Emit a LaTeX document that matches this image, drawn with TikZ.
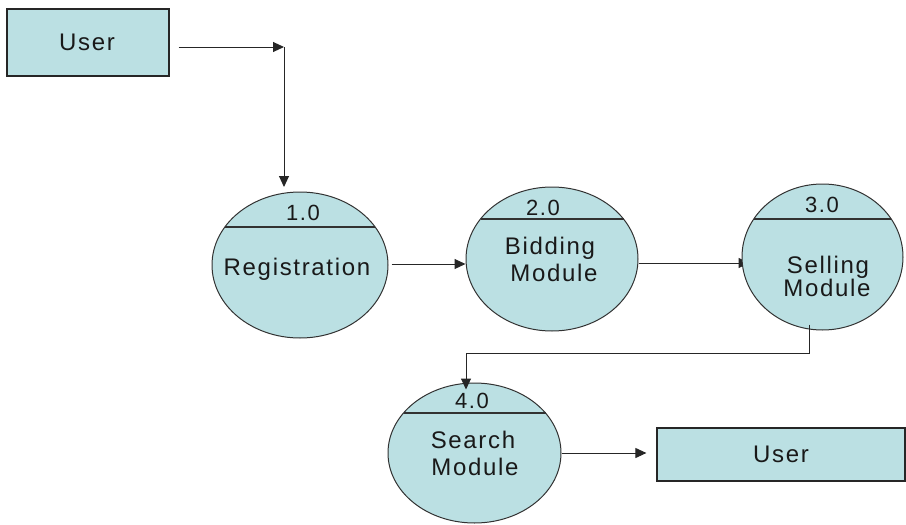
\documentclass[tikz,border=0pt]{standalone}
\usepackage{fontspec}
\setmainfont{Liberation Sans}[LetterSpace=7]
\usetikzlibrary{shapes.geometric,arrows.meta}
\definecolor{procfill}{RGB}{187,224,227}
\definecolor{edgegray}{RGB}{50,50,50}
\pgfdeclarelayer{bg}
\pgfsetlayers{bg,main}
\begin{document}
\begin{tikzpicture}[x=1pt,y=-1pt,
  entity/.style={rectangle,draw=black!85,line width=1.2pt,fill=procfill,inner sep=0pt},
  process/.style={ellipse,draw=edgegray,line width=1pt,fill=procfill,inner sep=0pt},
  lbl/.style={font=\fontsize{24}{26}\selectfont,text=black!90,inner sep=0pt,anchor=base},
  num/.style={font=\fontsize{22}{24}\selectfont,text=black!90,inner sep=0pt,anchor=base},
  flow/.style={draw=black!85,line width=1pt,-{Triangle[length=11pt,width=10pt]}},
  divider/.style={draw=edgegray,line width=1.1pt}]

\path[use as bounding box] (0,0) rectangle (906,525);

% external entities
\node[entity,minimum width=162pt,minimum height=67pt] (u1) at (88,42.5) {};
\node[lbl] (u1t) at (87,50) {User};
\node[entity,minimum width=248pt,minimum height=53pt] (u2) at (781,454.5) {};
\node[lbl] (u2t) at (781,462) {User};

% processes
\node[process,minimum width=176pt,minimum height=146pt] (e1) at (300,265) {};
\draw[divider] (e1.center) ++(-75,-38) -- ++(150,0);
\node[num] (e1n) at (303,220) {1.0};
\node[lbl] (e1t) at (297,275) {Registration};

\node[process,minimum width=172pt,minimum height=144pt] (e2) at (552,259) {};
\draw[divider] (e2.center) ++(-71.5,-40) -- ++(143,0);
\node[num] (e2n) at (543,215) {2.0};
\node[lbl] (e2a) at (550,254) {Bidding};
\node[lbl] (e2b) at (554,281) {Module};

\node[process,minimum width=161pt,minimum height=146pt] (e3) at (822.5,257) {};
\draw[divider] (e3.center) ++(-68.7,-38) -- ++(137.4,0);
\node[num] (e3n) at (822,212) {3.0};
\node[lbl] (e3a) at (828,273) {Selling};
\node[lbl] (e3b) at (827,296) {Module};

\node[process,minimum width=173pt,minimum height=140pt] (e4) at (474.5,453) {};
\draw[divider] (e4.center) ++(-71,-40) -- ++(142,0);
\node[num] (e4n) at (472,408) {4.0};
\node[lbl] (e4a) at (473,448) {Search};
\node[lbl] (e4b) at (475,475) {Module};

% bend points of the data flows
\coordinate (c1) at (284,47);
\coordinate (c2) at (284,187);
\coordinate (c4) at (466,353);

% data flows
\draw[flow] ([xshift=9pt]u1.east |- c1) -- (c1);
\draw[flow] (c1) -- (c2);
\draw[flow] ([xshift=3pt,yshift=1pt]e1.east) -- ([yshift=1pt]e1.east -| e2.west);
\begin{pgfonlayer}{bg}
  \draw[flow] ([yshift=-4pt]e2.east) -- ([xshift=8pt,yshift=-4pt]e2.east -| e3.west);
\end{pgfonlayer}
\draw[flow] ([xshift=-13.5pt,yshift=6pt]e3.south) |- (c4) -- ([xshift=-8.5pt,yshift=-7pt]e4.north);
\draw[flow] (e4.east) -- ([xshift=-10pt]e4.east -| u2.west);
\end{tikzpicture}
\end{document}
